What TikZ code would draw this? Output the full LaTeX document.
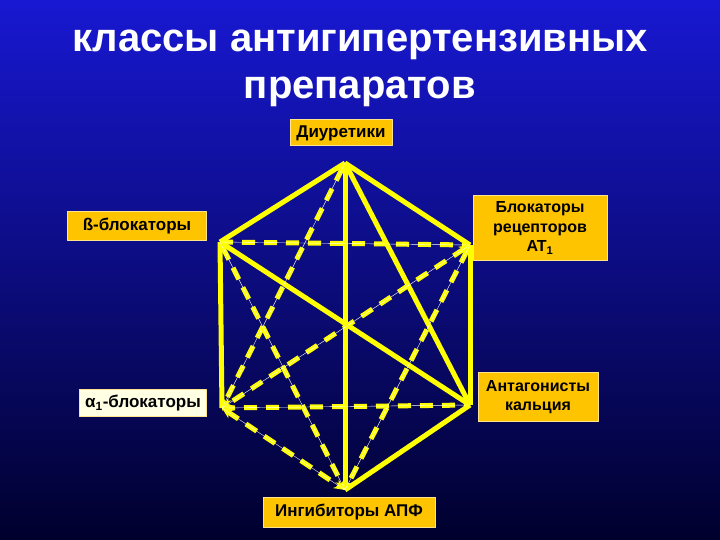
\documentclass[tikz,border=0pt]{standalone}
\usepackage{fontspec}
\setmainfont{Liberation Sans}
\usetikzlibrary{arrows.meta,positioning,calc}
\definecolor{slideblue}{RGB}{24,24,210}
\definecolor{slidemid}{RGB}{6,6,168}
\definecolor{slidenavy}{RGB}{0,0,45}
\definecolor{boxorange}{RGB}{255,196,0}
\definecolor{boxcream}{RGB}{255,255,228}
\definecolor{edgeyellow}{RGB}{255,255,0}

\begin{document}
\begin{tikzpicture}[x=1pt, y=-1pt, >=Stealth, line join=round]
			\tikzstyle{title}=[text=white,font=\fontsize{40}{44}\selectfont\bfseries,inner sep=0pt]
			\tikzstyle{drug}=[fill=boxorange,draw=white!55!boxorange,line width=1pt,text=black,
			font=\fontsize{17}{19.5}\selectfont\bfseries,align=center,inner sep=2pt]
			\tikzstyle{small}=[font=\fontsize{16}{19.5}\selectfont\bfseries]
			\tikzstyle{strut}=[draw=edgeyellow,line width=5pt]
			\tikzstyle{link}=[draw=edgeyellow,line width=5pt,dash pattern=on 13pt off 9pt,
			postaction={draw=white,line width=0.4pt,solid,-}]
			\tikzstyle{both}=[{Stealth[length=11pt,width=10pt]}-{Stealth[length=11pt,width=10pt]}]

			% background
			\shade[top color=slideblue,middle color=slidemid,bottom color=slidenavy] (0,0) rectangle (720,540);
			\useasboundingbox (0,0) rectangle (720,540);

			\node[title] (t1) at (360,45) {классы антигипертензивных};
			\node[title] (t2) at (360,92) {препаратов};

			\coordinate (D) at (345,163); \coordinate (B) at (220,242);
			\coordinate (R) at (470,245); \coordinate (A) at (222,408);
			\coordinate (C) at (470,405); \coordinate (I) at (345,490);

			% solid links
			\draw[strut] (D) -- (B); \draw[strut] (D) -- (R); \draw[strut] (D) -- (I);
			\draw[strut] (D) -- (C); \draw[strut] (B) -- (A); \draw[strut] (R) -- (C);
			\draw[strut] (B) -- (C); \draw[strut] (C) -- (I);

			% dashed links
			\draw[link] (B) -- (R); \draw[link] (A) -- (C);
			\draw[link,both] (D) -- (A); \draw[link,both] (B) -- (I);
			\draw[link,both] (R) -- (A); \draw[link,both] (R) -- (I);
			\draw[link,both] (A) -- (I);

			\node[drug,minimum width=102pt,minimum height=26pt] (diur) at (341,133) {Диуретики};
			\node[drug,minimum width=139pt,minimum height=28pt] (beta) at (137,226) {ß-блокаторы};
			\node[drug,small,minimum width=134pt,minimum height=65pt] (arb) at (540,228)
			{Блокаторы\\рецепторов\\AT\textsubscript{1}};
			\node[drug,fill=boxcream,minimum width=127pt,minimum height=27pt] (alpha) at (143,403)
			{α\textsubscript{1}-блокаторы};
			\node[drug,small,minimum width=120pt,minimum height=49pt] (calc) at (538,397)
			{Антагонисты\\кальция};
			\node[drug,minimum width=172pt,minimum height=30pt] (ace) at (349,512) {Ингибиторы АПФ};
		\end{tikzpicture}
\end{document}
